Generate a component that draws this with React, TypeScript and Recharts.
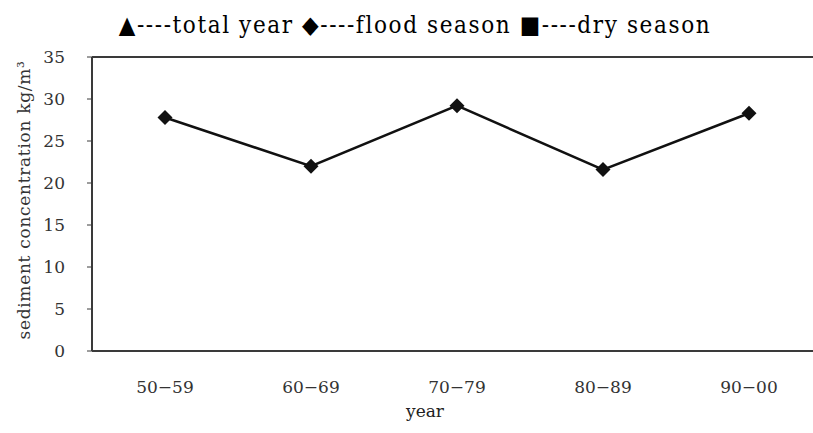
import { LineChart, Line, XAxis, YAxis, ReferenceLine } from 'recharts';

const periods = ['50−59', '60−69', '70−79', '80−89', '90−00'];
const floodSeason = [27.8, 22.0, 29.2, 21.6, 28.3];
const yTicks = [0, 5, 10, 15, 20, 25, 30, 35];
const boundaryTicks = [1, 2, 3, 4];

const data = periods.map((p, i) => ({ period: p, idx: i + 0.5, flood: floodSeason[i] }));

const AXIS = '#3a3a3a';
const SERIF = '"DejaVu Serif", serif';
const TIMES = '"DejaVu Serif Condensed", "DejaVu Serif", serif';

function Diamond(props: any) {
  const { cx, cy } = props;
  if (cx == null || cy == null) return null;
  const r = 7.5;
  return (
    <path
      d={`M${cx},${cy - r} L${cx + r},${cy} L${cx},${cy + r} L${cx - r},${cy} Z`}
      fill="#111"
      stroke="none"
    />
  );
}

export default function App() {
  return (
    <div
      style={{
        position: 'absolute',
        left: 0,
        top: 0,
        width: 813,
        height: 433,
        overflow: 'hidden',
        background: '#fff',
      }}
    >
      <LineChart
        width={830}
        height={433}
        data={data}
        margin={{ top: 57, right: 8, left: 0, bottom: 22 }}
      >
        <text
          x={415}
          y={33}
          textAnchor="middle"
          fontFamily={TIMES}
          fontSize={24}
          letterSpacing={1.6}
          fill="#000"
        >
          ▲----total year ◆----flood season ■----dry season
        </text>
        <XAxis
          xAxisId="cat"
          dataKey="period"
          scale="band"
          axisLine={{ stroke: AXIS, strokeWidth: 2 }}
          tickLine={false}
          tickMargin={24}
          height={60}
          tick={{ fontFamily: SERIF, fontSize: 17, fill: '#333' }}
          label={(p: any) => {
            const vb = p.viewBox;
            return (
              <text
                x={vb.x + vb.width / 2 - 32}
                y={vb.y + 66}
                textAnchor="middle"
                fontFamily={SERIF}
                fontSize={17}
                fill="#222"
              >
                year
              </text>
            );
          }}
        />
        <XAxis
          xAxisId="bounds"
          dataKey="idx"
          type="number"
          domain={[0, 5]}
          ticks={boundaryTicks}
          axisLine={false}
          tickLine={{ stroke: AXIS, strokeWidth: 1 }}
          tickSize={6}
          mirror
          tick={() => <g />}
          height={0}
        />
        <YAxis
          domain={[0, 35]}
          ticks={yTicks}
          width={92}
          axisLine={{ stroke: AXIS, strokeWidth: 2 }}
          tickLine={{ stroke: AXIS }}
          tickSize={5}
          tickMargin={22}
          tick={{ fontFamily: SERIF, fontSize: 17, fill: '#333' }}
          label={(p: any) => {
            const vb = p.viewBox;
            const cy = vb.y + vb.height / 2 - 4;
            return (
              <text
                x={24}
                y={cy}
                transform={`rotate(-90 24 ${cy})`}
                textAnchor="middle"
                dominantBaseline="central"
                fontFamily={SERIF}
                fontSize={17}
                fill="#333"
                letterSpacing={0.7}
              >
                sediment concentration kg/m³
              </text>
            );
          }}
        />
        <ReferenceLine xAxisId="cat" y={35} stroke={AXIS} strokeWidth={2} />
        <Line
          xAxisId="cat"
          type="linear"
          dataKey="flood"
          stroke="#111"
          strokeWidth={2.5}
          dot={<Diamond />}
          activeDot={false}
          isAnimationActive={false}
        />
      </LineChart>
    </div>
  );
}
